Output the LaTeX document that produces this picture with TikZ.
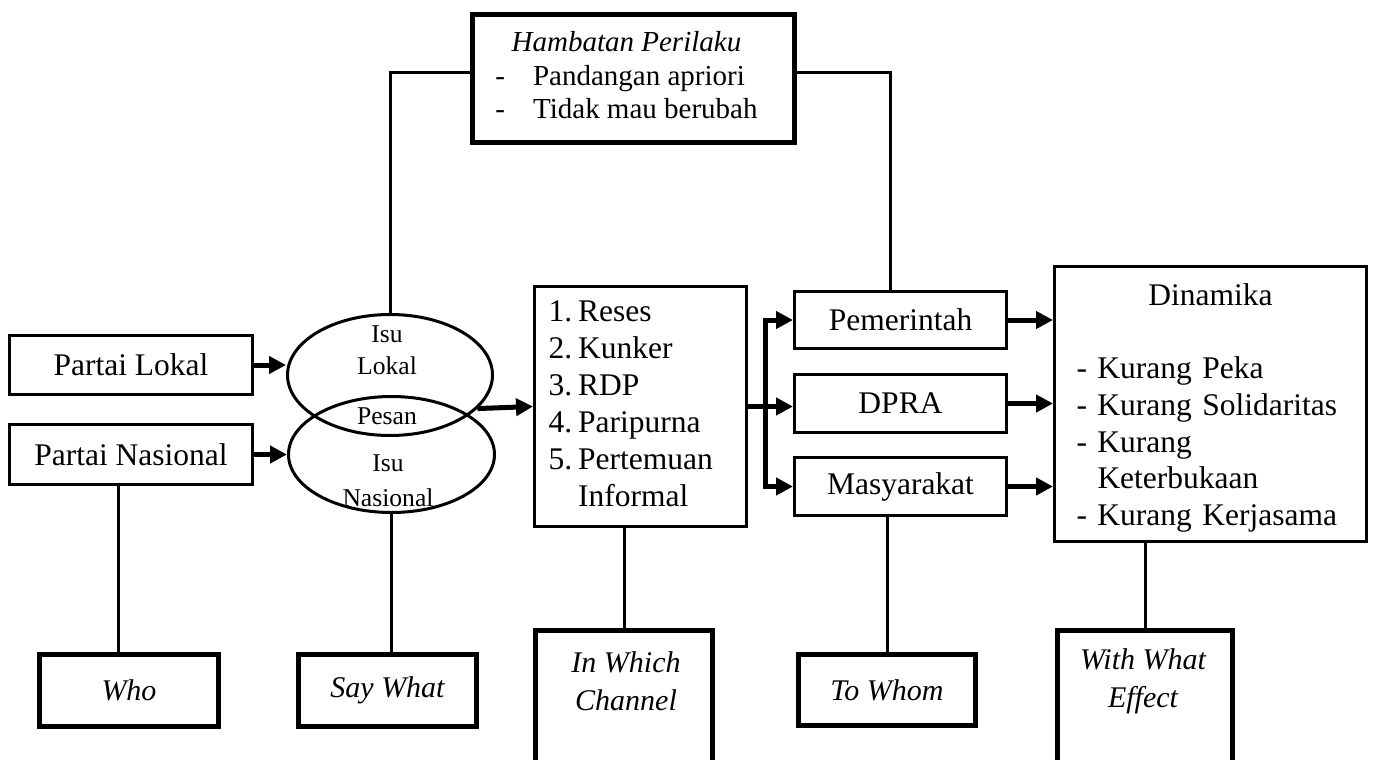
\documentclass[tikz,border=0pt]{standalone}
\usepackage{fontspec}
\setmainfont{Liberation Serif}
\usetikzlibrary{arrows.meta,shapes.geometric}

\begin{document}
\begin{tikzpicture}[line cap=butt,line join=miter,x=1pt,y=-1pt,
  font=\fontsize{31.5}{37}\selectfont,
  box/.style={draw,line width=3pt,inner sep=0pt},
  thickbox/.style={draw,line width=5pt,inner sep=0pt},
  isu/.style={ellipse,draw,line width=3pt,inner sep=0pt},
  small/.style={font=\fontsize{25.6}{32}\selectfont,align=center},
  tag/.style={font=\fontsize{30}{38}\selectfont\itshape,align=center},
  conn/.style={line width=3pt},
  arr/.style={line width=5pt,-{Triangle[length=17pt,width=17pt]}}]
\useasboundingbox (0,0) rectangle (1376,760);
\clip (0,0) rectangle (1376,760);
% top
\node[thickbox,minimum width=322,minimum height=128,font=\fontsize{29}{33.5}\selectfont] (hambatan) at (633.5,78.5)
  {\begin{tabular}{@{}l@{\hspace{28pt}}l@{}}\multicolumn{2}{c}{\itshape Hambatan Perilaku}\\ - & Pandangan apriori\\ - & Tidak mau berubah\end{tabular}\hspace*{14pt}};
% who / say what
\node[box,minimum width=243,minimum height=59] (lokal) at (131,365) {Partai Lokal};
\node[box,minimum width=243,minimum height=60] (nasional) at (131,454.5) {Partai Nasional};
\node[isu,minimum width=205,minimum height=121] (ellLokal) at (390,375) {};
\node[isu,minimum width=206,minimum height=116] (ellNasional) at (391.5,454.5) {};
\node[small] (isuLokal) at (387,350) {Isu\\Lokal};
\node[small] (pesan) at (387,416) {Pesan};
\node[small,font=\fontsize{25.6}{35}\selectfont] (isuNasional) at (388,480.5) {Isu\\Nasional};
% channel
\node[box,minimum width=212,minimum height=240,text width=184,inner xsep=14pt,align=left] (channel) at (640.5,406.5)
  {\begin{tabular}{@{}l@{\hspace{6pt}}l@{}}1. & Reses\\ 2. & Kunker\\ 3. & RDP\\ 4. & Paripurna\\ 5. & Pertemuan\\ & Informal\end{tabular}};
% to whom
\node[box,minimum width=212,minimum height=57] (pemerintah) at (900.5,320) {Pemerintah};
\node[box,minimum width=212,minimum height=58] (dpra) at (900.5,403.5) {DPRA};
\node[box,minimum width=212,minimum height=58] (masyarakat) at (900.5,486.5) {Masyarakat};
% effect
\node[box,minimum width=312,minimum height=275,text width=268,inner xsep=22pt,align=left,font=\fontsize{31.5}{36.7}\selectfont] (dinamika) at (1210.5,404)
  {\makebox[\linewidth]{\rule{0pt}{34pt}Dinamika}\\[36.7pt]
   \begin{tabular}[t]{@{}l@{}}- Kurang Peka\\ - Kurang Solidaritas\\ - Kurang\\ \phantom{- }Keterbukaan\\ - Kurang Kerjasama\end{tabular}};
% bottom row
\node[thickbox,minimum width=179,minimum height=72,tag] (who) at (129,690.5) {Who};
\node[thickbox,minimum width=178,minimum height=72,tag] (saywhat) at (387.5,690.5) {Say What};
\node[thickbox,minimum width=177,minimum height=200] (inwhich) at (624,730.5) {};
\node[tag] (inwhichtxt) at (626,681) {In Which\\Channel};
\node[thickbox,minimum width=177,minimum height=71,tag] (towhom) at (887,690) {To Whom};
\node[thickbox,minimum width=175,minimum height=200] (effect) at (1145,730.5) {};
\node[tag] (effecttxt) at (1143,681) {With What\\Effect};
% connectors
\draw[conn] ([yshift=6]hambatan.west) -| (ellLokal.north);
\draw[conn] ([yshift=6]hambatan.east) -| ([xshift=-10]pemerintah.north);
\draw[arr] (lokal.east) -- (lokal.east -| ellLokal.west);
\draw[arr] (nasional.east) -- (ellNasional.west);
\draw[arr] (ellLokal.-21) -- (channel.west);
\draw[arr] (channel.east) -- (channel.east -| dpra.west);
\coordinate (fork) at ([xshift=17]channel.east);
\draw[arr] (fork) |- (pemerintah.west);
\draw[arr] (fork) |- (masyarakat.west);
\draw[arr] (pemerintah.east) -- (pemerintah.east -| dinamika.west);
\draw[arr] (dpra.east) -- (dpra.east -| dinamika.west);
\draw[arr] (masyarakat.east) -- (masyarakat.east -| dinamika.west);
\draw[conn] ([xshift=-11]who.north) -- ([xshift=-11]who.north |- nasional.south);
\draw[conn] (ellNasional.south) -- (ellNasional.south |- saywhat.north);
\draw[conn] (inwhich.north |- channel.south) -- (inwhich.north);
\draw[conn] (towhom.north |- masyarakat.south) -- (towhom.north);
\draw[conn] (effect.north |- dinamika.south) -- (effect.north);
\end{tikzpicture}
\end{document}
